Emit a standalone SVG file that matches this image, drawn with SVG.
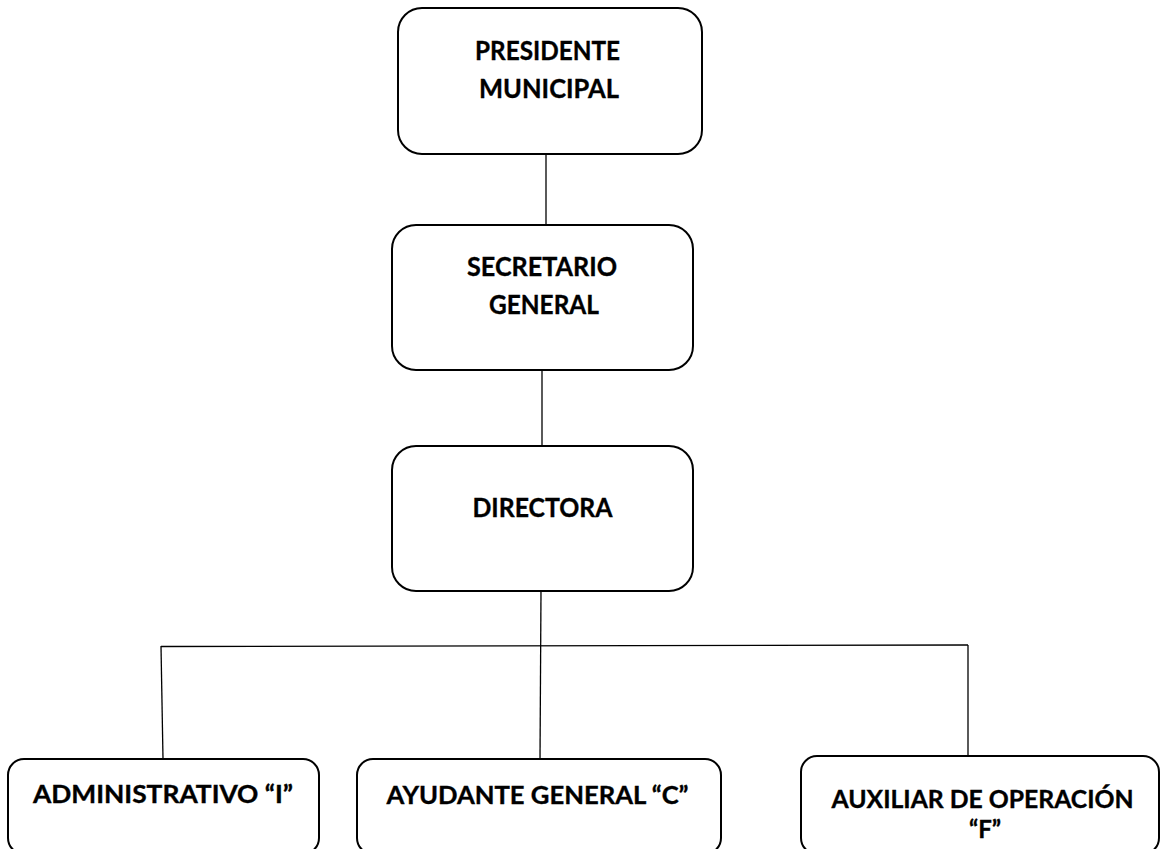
<svg xmlns="http://www.w3.org/2000/svg" width="1160" height="849" viewBox="0 0 1160 849">
<style>
.box{fill:#fff;stroke:#000;stroke-width:2}
.t{font-family:Lato,"Liberation Sans",sans-serif;font-weight:bold;fill:#000;text-anchor:middle;stroke:#000;stroke-width:0.35}
.big{font-size:27px}
.sm{font-size:24px}
.c{stroke:#000;stroke-width:1.3;fill:none}
</style>
<rect width="1160" height="849" fill="#fff"/>
<g id="connectors">
<line class="c" x1="546" y1="154" x2="546" y2="225"/>
<line class="c" x1="542" y1="370" x2="542" y2="446"/>
<line class="c" x1="541" y1="591" x2="540" y2="759"/>
<line class="c" x1="161" y1="646.5" x2="968" y2="645"/>
<line class="c" x1="161" y1="646" x2="163" y2="759"/>
<line class="c" x1="968" y1="645" x2="968" y2="756"/>
</g>
<g id="presidente">
<rect class="box" x="398" y="8" width="304" height="146" rx="24"/>
<text class="t big" x="547.5" y="60" textLength="145" lengthAdjust="spacingAndGlyphs">PRESIDENTE</text>
<text class="t big" x="549" y="98" textLength="140" lengthAdjust="spacingAndGlyphs">MUNICIPAL</text>
</g>
<g id="secretario">
<rect class="box" x="392" y="225" width="301" height="145" rx="24"/>
<text class="t big" x="542" y="276" textLength="150" lengthAdjust="spacingAndGlyphs">SECRETARIO</text>
<text class="t big" x="544" y="314" textLength="110" lengthAdjust="spacingAndGlyphs">GENERAL</text>
</g>
<g id="directora">
<rect class="box" x="392" y="446" width="301" height="145" rx="24"/>
<text class="t big" x="542.5" y="517" textLength="140" lengthAdjust="spacingAndGlyphs">DIRECTORA</text>
</g>
<g id="administrativo">
<rect class="box" x="8" y="759" width="311" height="95" rx="16"/>
<text class="t sm" x="163" y="803" textLength="260" lengthAdjust="spacingAndGlyphs">ADMINISTRATIVO “I”</text>
</g>
<g id="ayudante">
<rect class="box" x="357" y="759" width="364" height="95" rx="16"/>
<text class="t sm" x="537.5" y="804" textLength="302" lengthAdjust="spacingAndGlyphs">AYUDANTE GENERAL “C”</text>
</g>
<g id="auxiliar">
<rect class="box" x="801" y="756" width="358" height="98" rx="16"/>
<text class="t sm" x="982.5" y="808" textLength="302" lengthAdjust="spacingAndGlyphs">AUXILIAR DE OPERACIÓN</text>
<text class="t sm" x="985" y="838">“F”</text>
</g>
</svg>
